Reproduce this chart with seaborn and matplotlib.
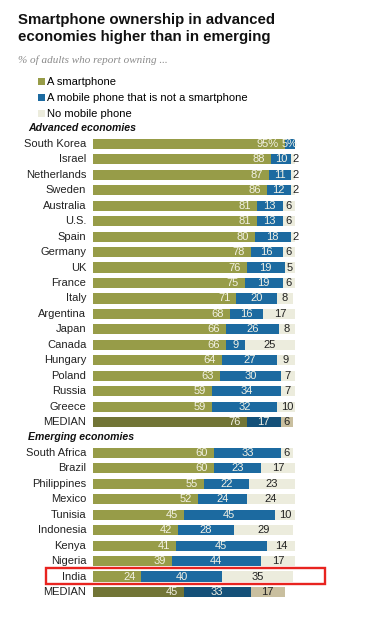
import pandas as pd
import seaborn as sns
import matplotlib.pyplot as plt
from matplotlib.patches import Patch, Rectangle

# values (% of adults)
adv_countries = ['South Korea', 'Israel', 'Netherlands', 'Sweden', 'Australia', 'U.S.',
                 'Spain', 'Germany', 'UK', 'France', 'Italy', 'Argentina', 'Japan',
                 'Canada', 'Hungary', 'Poland', 'Russia', 'Greece']
adv_smart = [95, 88, 87, 86, 81, 81, 80, 78, 76, 75, 71, 68, 66, 66, 64, 63, 59, 59]
adv_mobile = [5, 10, 11, 12, 13, 13, 18, 16, 19, 19, 20, 16, 26, 9, 27, 30, 34, 32]
adv_none = [0, 2, 2, 2, 6, 6, 2, 6, 5, 6, 8, 17, 8, 25, 9, 7, 7, 10]
adv_median = [76, 17, 6]

emg_countries = ['South Africa', 'Brazil', 'Philippines', 'Mexico', 'Tunisia',
                 'Indonesia', 'Kenya', 'Nigeria', 'India']
emg_smart = [60, 60, 55, 52, 45, 42, 41, 39, 24]
emg_mobile = [33, 23, 22, 24, 45, 28, 45, 44, 40]
emg_none = [6, 17, 23, 24, 10, 29, 14, 17, 35]
emg_median = [45, 33, 17]

series_labels = ['A smartphone', 'A mobile phone that is not a smartphone', 'No mobile phone']

COLORS = ['#979C48', '#1C6AA0', '#ECECDD']
MEDIAN_COLORS = ['#727536', '#145078', '#C9BF9F']
LIGHT_TEXT = '#F2F1E4'

# one table, header rows are kept as empty categories in the order list
rows = []
for c, s, m, n in zip(adv_countries, adv_smart, adv_mobile, adv_none):
    rows.append(dict(key=c, label=c, smart=s, mobile=m, none=n, median=False))
rows.append(dict(key='MEDIAN_adv', label='MEDIAN', smart=adv_median[0],
                 mobile=adv_median[1], none=adv_median[2], median=True))
for c, s, m, n in zip(emg_countries, emg_smart, emg_mobile, emg_none):
    rows.append(dict(key=c, label=c, smart=s, mobile=m, none=n, median=False))
rows.append(dict(key='MEDIAN_emg', label='MEDIAN', smart=emg_median[0],
                 mobile=emg_median[1], none=emg_median[2], median=True))
df = pd.DataFrame(rows)
df['cum2'] = df['smart'] + df['mobile']
df['cum3'] = df['cum2'] + df['none']

order = ['hdr_adv'] + adv_countries + ['MEDIAN_adv', 'hdr_emg'] + emg_countries + ['MEDIAN_emg']
headers = {'hdr_adv': 'Advanced economies', 'hdr_emg': 'Emerging economies'}

plt.rcParams['font.family'] = ['Liberation Sans', 'DejaVu Sans']

fig = plt.figure(figsize=(3.72, 6.23), dpi=100)
fig.patch.set_facecolor('white')

# axes placed so that 0..100 maps to pixels 93..295
top_px, row_px = 128.5, 15.45
y_top = top_px - row_px / 2
y_bot = top_px + row_px * (len(order) - 0.5)
ax = fig.add_axes([93 / 372, 1 - y_bot / 623, 202 / 372, (y_bot - y_top) / 623])

# stacked bars: draw the cumulative totals back to front
for i, col in enumerate(['cum3', 'cum2', 'smart']):
    k = 2 - i
    pal = {r.key: (MEDIAN_COLORS[k] if r.median else COLORS[k]) for r in df.itertuples()}
    sns.barplot(data=df, x=col, y='key', order=order, hue='key', palette=pal,
                dodge=False, legend=False, width=0.66, saturation=1, ax=ax,
                orient='h', linewidth=0)

ax.set_xlim(0, 100)
ax.set_ylim(len(order) - 0.5, -0.5)
ax.axis('off')

pos = {k: i for i, k in enumerate(order)}
for r in df.itertuples():
    y = pos[r.key]
    ax.text(-3.3, y, r.label, ha='right', va='center', fontsize=8, color='#222222')
    first = r.key == 'South Korea'
    ax.text(r.smart - 3, y, f'{r.smart}%' if first else str(r.smart), ha='right',
            va='center', fontsize=8, color=LIGHT_TEXT)
    ax.text(r.smart + r.mobile / 2, y, f'{r.mobile}%' if first else str(r.mobile),
            ha='center', va='center', fontsize=8, color=LIGHT_TEXT)
    if r.none > 0:
        if r.none < 4:
            ax.text(r.cum2 + 0.8, y, str(r.none), ha='left', va='center',
                    fontsize=8, color='#222222')
        else:
            ax.text(r.cum2 + r.none / 2, y, str(r.none), ha='center', va='center',
                    fontsize=8, color='#222222')

for k, txt in headers.items():
    ax.text(-32.3, pos[k], txt, ha='left', va='center', fontsize=7.6,
            fontweight='bold', fontstyle='italic', color='#111111')

# India highlight box
ax.add_patch(Rectangle((-23.4, pos['India'] - 0.55), 138.3, 1.0, fill=False,
                       edgecolor='#E8231F', linewidth=1.7, clip_on=False))

fig.text(18 / 372, 1 - 13 / 623, 'Smartphone ownership in advanced\neconomies higher than in emerging',
         ha='left', va='top', fontsize=10.8, fontweight='bold', color='#111111',
         linespacing=1.25)
fig.text(18 / 372, 1 - 60 / 623, '% of adults who report owning ...', ha='left',
         va='center', fontsize=8, fontstyle='italic', family='Liberation Serif',
         color='#8A8A8A')

handles = [Patch(facecolor=c, edgecolor='none') for c in COLORS]
fig.legend(handles, series_labels, loc='upper left', bbox_to_anchor=(38 / 372, 1 - 77 / 623),
           frameon=False, fontsize=8, handlelength=0.6, handleheight=0.6,
           handletextpad=0.2, labelspacing=0.55, borderaxespad=0, borderpad=0)

plt.savefig('out.png', dpi=100, facecolor='white')
